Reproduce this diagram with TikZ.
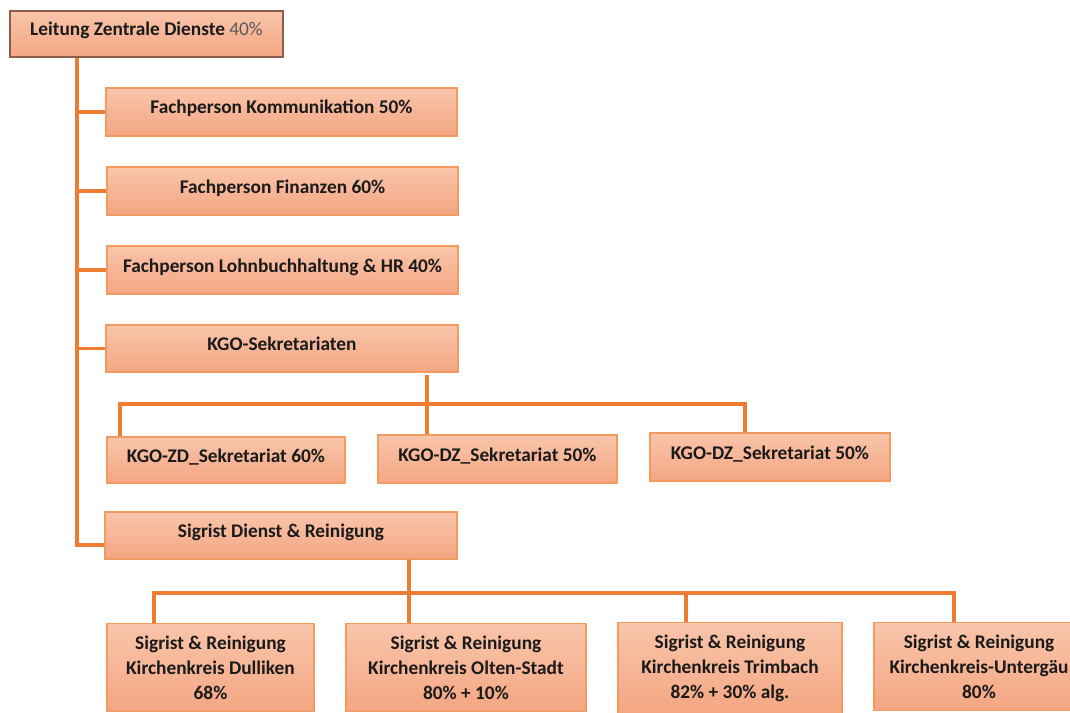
\documentclass[tikz,border=0pt]{standalone}
\usepackage{fontspec}
\setmainfont{Carlito}
\usetikzlibrary{positioning}

\definecolor{linkorange}{HTML}{EE7D31}
\definecolor{boxline}{HTML}{F39A60}
\definecolor{leadline}{HTML}{8A5E48}
\definecolor{boxtop}{HTML}{F9C5AB}
\definecolor{boxbot}{HTML}{F4A682}
\definecolor{txt}{HTML}{1A1A1A}

\tikzset{
  orgbox/.style={draw=boxline, line width=0.9pt, top color=boxtop, bottom color=boxbot,
    text=txt, font=\fontsize{14.5}{18.75}\selectfont\bfseries, inner sep=0pt,
    text height=10pt, text depth=7pt, minimum height=36pt},
  boxw/.style={minimum width=#1*0.75pt},
  tallbox/.style={orgbox, anchor=north, align=center, text height=, text depth=,
    inner ysep=9pt, minimum height=0pt},
  link/.style={draw=linkorange, line width=2.6pt}
}

\begin{document}
\begin{tikzpicture}[x=0.75pt, y=-0.75pt]
\useasboundingbox (0,0) rectangle (1070,713);
\clip (0,0) rectangle (1070,713);
\fill[white] (0,0) rectangle (1070,713);

% head and staff boxes
\node[orgbox, boxw=273, minimum height=34.5pt, draw=leadline] (lead) at (146.5,34)
  {Leitung Zentrale Dienste \textcolor{black!65}{\mdseries 40\%}};
\node[orgbox, boxw=351] (komm) at (281.5,112) {Fachperson Kommunikation 50\%};
\node[orgbox, boxw=351] (fin) at (282.5,191) {Fachperson Finanzen 60\%};
\node[orgbox, boxw=351] (lohn) at (282.5,270) {Fachperson Lohnbuchhaltung \& HR 40\%};
\node[orgbox, boxw=352, minimum height=35.25pt] (kgo) at (282,348.5) {KGO-Sekretariaten};
\node[orgbox, boxw=352, minimum height=35.25pt] (sig) at (281,535.5) {Sigrist Dienst \& Reinigung};

% secretariats
\node[orgbox, boxw=238, minimum height=34.5pt] (kzd) at (226,460) {KGO-ZD\_Sekretariat 60\%};
\node[orgbox, boxw=239] (kdza) at (497.5,459) {KGO-DZ\_Sekretariat 50\%};
\node[orgbox, boxw=240] (kdzb) at (770,457) {KGO-DZ\_Sekretariat 50\%};

% sigrist boxes
\node[tallbox, boxw=207] (dul) at (210.5,623) {Sigrist \& Reinigung\\Kirchenkreis Dulliken\\68\%};
\node[tallbox, boxw=240] (olt) at (466,623) {Sigrist \& Reinigung\\Kirchenkreis Olten-Stadt\\80\% + 10\%};
\node[tallbox, boxw=224] (tri) at (730,622) {Sigrist \& Reinigung\\Kirchenkreis Trimbach\\82\% + 30\% alg.};
\node[tallbox, boxw=210] (unt) at (979,622) {Sigrist \& Reinigung\\Kirchenkreis-Untergäu\\80\%};

% helper points
\coordinate (trunk) at (77,57);
\coordinate (kbl) at (120,404);
\coordinate (kbm) at (427,404);
\coordinate (kbr) at (745,404);
\coordinate (sbl) at (154,593);
\coordinate (sbm) at (409,593);
\coordinate (sbt) at (686,593);
\coordinate (sbr) at (954,593);

% trunk
\draw[link] (lead.south -| trunk) |- ([yshift=-7pt]sig.west);
\draw[link, yshift=-4pt] (trunk |- komm.west) -- (komm.west);
\draw[link, yshift=-4.5pt] (trunk |- fin.west) -- (fin.west);
\draw[link, yshift=-4pt] (trunk |- lohn.west) -- (lohn.west);
\draw[link, yshift=-5.5pt] (trunk |- kgo.west) -- (kgo.west);

% secretariats
\draw[link] ([yshift=-2pt]kgo.south -| kbm) -- (kbm |- kdza.north);
\draw[link] (kbl |- kzd.north) -- (kbl) -- (kbr) -- (kbr |- kdzb.north);

% sigrist
\draw[link] (sbm |- sig.south) -- (sbm |- olt.north);
\draw[link] (sbl |- dul.north) -- (sbl) -- (sbr) -- (sbr |- unt.north);
\draw[link] (sbt) -- (sbt |- tri.north);
\end{tikzpicture}
\end{document}
